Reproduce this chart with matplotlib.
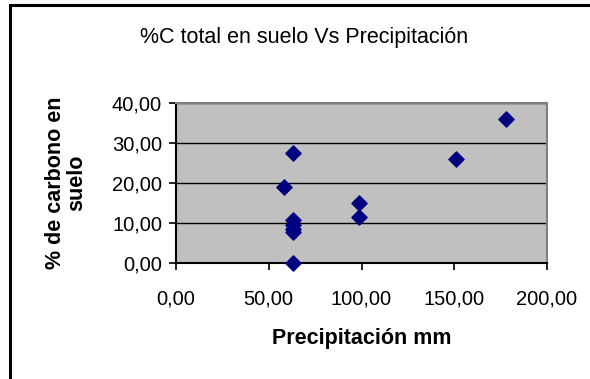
import matplotlib
matplotlib.use('Agg')
import matplotlib.pyplot as plt
from matplotlib.patches import Rectangle
from matplotlib.ticker import FuncFormatter

plt.rcParams['font.family'] = ['Liberation Sans', 'DejaVu Sans']

# precipitation (mm) and % carbon in soil
precip = [177.9, 63.2, 150.8, 58.0, 98.9, 98.9, 63.2, 63.2, 63.2, 63.2, 63.2]
carbono = [35.9, 27.5, 26.0, 19.0, 15.0, 11.5, 10.8, 9.5, 8.5, 7.7, 0.0]

x_ticks = [0, 50, 100, 150, 200]
y_ticks = [0, 10, 20, 30, 40]


def coma(v, pos):
    return f"{v:.2f}".replace('.', ',')


fig = plt.figure(figsize=(5.9, 3.79), dpi=100)
ax = fig.add_axes([176 / 590, 1 - 262.7 / 379, 371 / 590, 160 / 379])

# outer chart frame (clipped at right/bottom like the source)
fig.patches.append(Rectangle((10 / 590, -0.1), 1.1, 1 - 5 / 379 + 0.1,
                             transform=fig.transFigure, fill=False,
                             edgecolor='black', linewidth=2.2))

ax.set_facecolor('#C0C0C0')
ax.scatter(precip, carbono, marker='D', s=60, color='#000080', zorder=3,
           clip_on=False)

ax.set_xlim(0, 200)
ax.set_ylim(0, 40)
ax.set_xticks(x_ticks)
ax.set_yticks(y_ticks)
ax.xaxis.set_major_formatter(FuncFormatter(coma))
ax.yaxis.set_major_formatter(FuncFormatter(coma))
ax.yaxis.grid(True, color='black', linewidth=1.0)
ax.set_axisbelow(True)

for side in ['left', 'bottom']:
    ax.spines[side].set_color('black')
    ax.spines[side].set_linewidth(1.5)
for side in ['top', 'right']:
    ax.spines[side].set_color('#808080')
    ax.spines[side].set_linewidth(1.5)

ax.tick_params(axis='both', direction='out', length=5, width=1.2,
               labelsize=14.5, colors='black')
ax.tick_params(axis='x', pad=14)
ax.tick_params(axis='y', pad=5)

ax.set_xlabel('Precipitación mm', fontsize=15.5, fontweight='bold', labelpad=14)
ax.set_ylabel('% de carbono en\nsuelo', fontsize=15.5, fontweight='bold',
              labelpad=18, linespacing=1.0)
fig.text(304 / 590, 1 - 38 / 379, '%C total en suelo Vs Precipitación',
         ha='center', va='center', fontsize=15.5)

fig.savefig('out.png', dpi=100)
